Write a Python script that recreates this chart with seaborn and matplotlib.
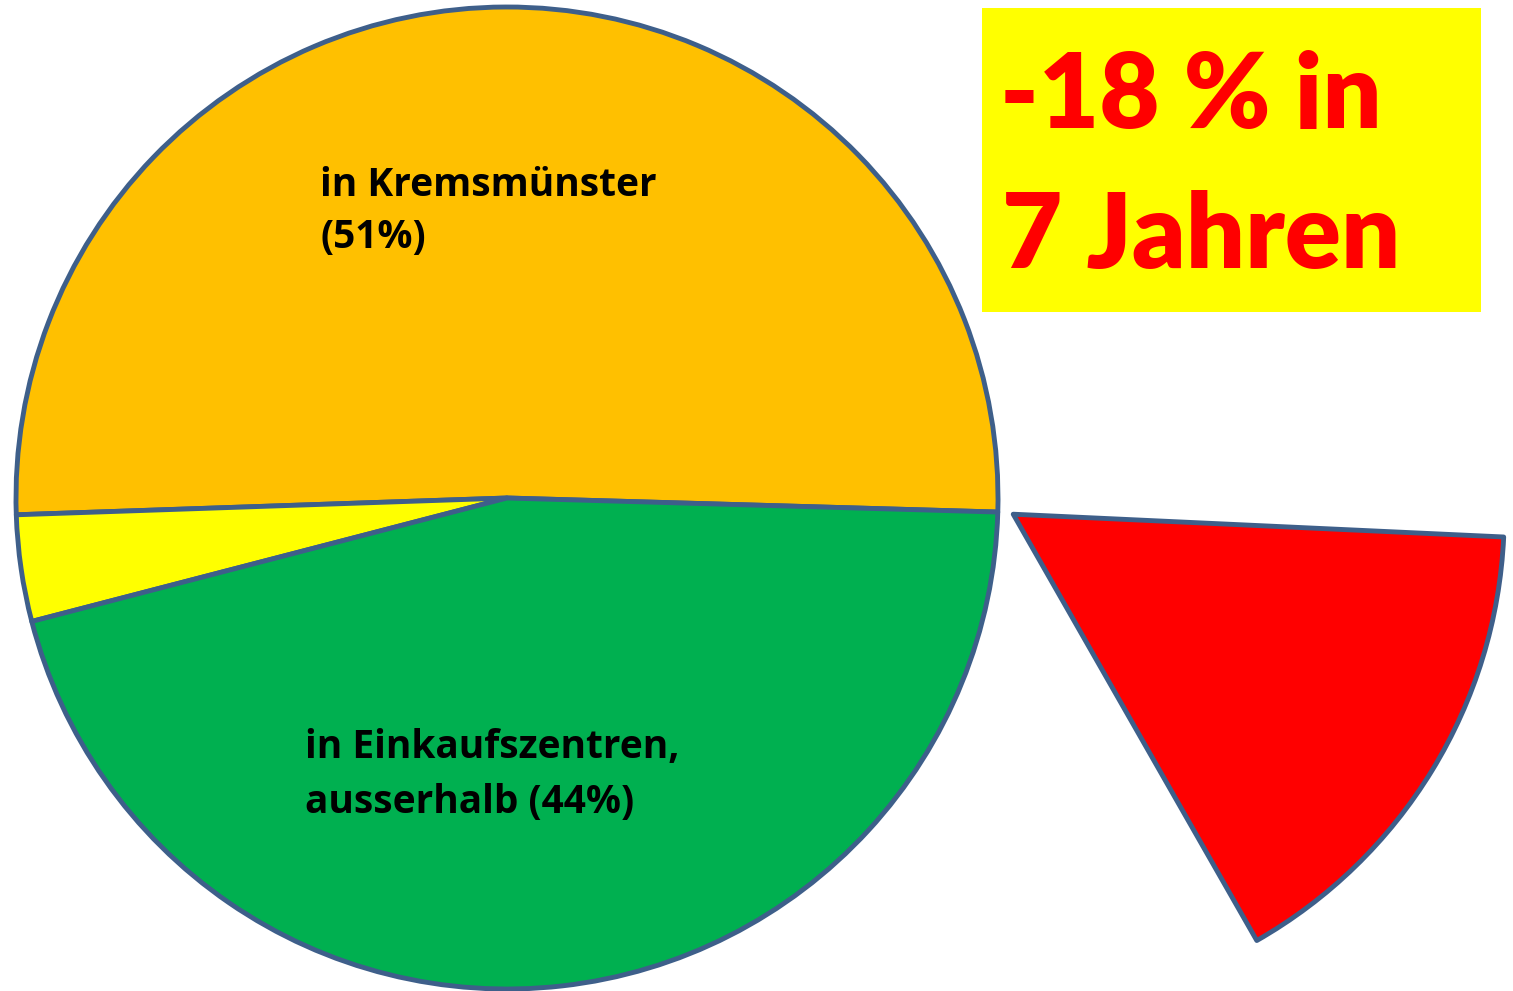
import matplotlib
matplotlib.use('Agg')
import matplotlib.pyplot as plt
import seaborn as sns
from matplotlib.patches import Rectangle

# Anteile (in Prozent), gegen den Uhrzeigersinn ab rechts
segments = ['in Kremsmünster', 'sonstige', 'in Einkaufszentren, ausserhalb']
shares = [51, 3.5, 45.5]
slice_colors = ['#FFC000', '#FFFF00', '#00B050']

# herausgeschobenes Segment (Verlust)
loss_share = 16
loss_color = '#FF0000'

label_krems = ['in Kremsmünster', '(51%)']
label_ez = ['in Einkaufszentren,', 'ausserhalb (44%)']
headline = ['-18 % in', '7 Jahren']

sns.set_theme(style='white')
plt.rcParams['font.family'] = ['Open Sans', 'DejaVu Sans']

W, H = 1513, 991
fig = plt.figure(figsize=(W / 100, H / 100), dpi=100)
ax = fig.add_axes([0, 0, 1, 1])

edge = dict(edgecolor='#3E5F8A', linewidth=3.5, joinstyle='round')
ax.pie(shares, colors=slice_colors, startangle=-1.64, counterclock=True,
       radius=1, wedgeprops=edge)
ax.pie([loss_share / 100], normalize=False, colors=[loss_color],
       startangle=-60.26, center=(1.031, -0.033), radius=1, wedgeprops=edge)

# Pixelraster: Mittelpunkt (507, 498), Radius 491 px
R, cx, cy = 491, 507, 498
ax.set_xlim(-cx / R, (W - cx) / R)
ax.set_ylim((cy - H) / R, cy / R)
ax.set_aspect('auto')
ax.axis('off')


def put(x, y, s, size, color='black', family=None, weight='bold'):
    fig.text(x / W, 1 - y / H, s, fontsize=size, fontweight=weight,
             color=color, ha='left', va='baseline', family=family)


put(320, 196, label_krems[0], 28)
put(320, 248, label_krems[1], 28)
put(305, 758, label_ez[0], 28)
put(305, 813, label_ez[1], 28)

fig.patches.append(Rectangle((982 / W, 1 - 312 / H), (1481 - 982) / W, (312 - 8) / H,
                             transform=fig.transFigure, facecolor='#FFFF00',
                             edgecolor='none', zorder=0))
big = ['Lato', 'DejaVu Sans']
put(1000, 128, headline[0], 75, color='#FF0000', family=big, weight='heavy')
put(1002, 268, headline[1], 75, color='#FF0000', family=big, weight='heavy')

fig.savefig('out.png', dpi=100)
